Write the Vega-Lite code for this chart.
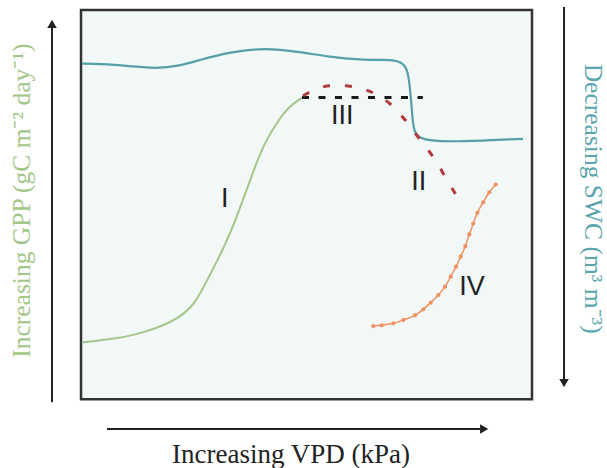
{
  "$schema": "https://vega.github.io/schema/vega-lite/v6.json",
  "width": 607,
  "height": 468,
  "padding": 0,
  "autosize": {"type": "fit", "contains": "padding"},
  "background": "white",
  "config": {"view": {"stroke": null}},
  "datasets": {
    "box": [{"x": 0, "x2": 100, "y": 0, "y2": 100}],
    "swc": [
      {"x": 0.2, "y": 86.2}, {"x": 4.2, "y": 86.2}, {"x": 10.9, "y": 85.6}, {"x": 16.4, "y": 84.9},
      {"x": 22.0, "y": 85.6}, {"x": 26.4, "y": 87.2}, {"x": 33.0, "y": 89.2}, {"x": 40.8, "y": 90.3},
      {"x": 48.6, "y": 89.2}, {"x": 55.2, "y": 87.9}, {"x": 61.9, "y": 87.2}, {"x": 67.4, "y": 87.2},
      {"x": 70.7, "y": 86.9}, {"x": 72.1, "y": 85.4}, {"x": 72.7, "y": 82.6}, {"x": 73.2, "y": 76.9},
      {"x": 73.6, "y": 70.5}, {"x": 74.1, "y": 68.3}, {"x": 75.2, "y": 67.1}, {"x": 77.4, "y": 66.4},
      {"x": 81.8, "y": 66.2}, {"x": 88.5, "y": 66.4}, {"x": 98.0, "y": 66.9}
    ],
    "gpp": [
      {"x": 0.44, "y": 14.62}, {"x": 7.10, "y": 15.38}, {"x": 14.63, "y": 17.18}, {"x": 21.95, "y": 20.77},
      {"x": 25.28, "y": 24.62}, {"x": 27.49, "y": 29.49}, {"x": 30.38, "y": 35.90}, {"x": 33.04, "y": 42.31},
      {"x": 36.36, "y": 52.56}, {"x": 38.58, "y": 59.74}, {"x": 40.80, "y": 66.15}, {"x": 44.12, "y": 72.31},
      {"x": 46.34, "y": 75.38}, {"x": 49.00, "y": 77.44}
    ],
    "plateau": [{"x": 49.0, "y": 77.5}, {"x": 75.8, "y": 77.5}],
    "decline": [
      {"x": 49.22, "y": 77.95}, {"x": 51.88, "y": 79.49}, {"x": 55.21, "y": 80.51}, {"x": 58.54, "y": 80.51},
      {"x": 61.42, "y": 80.0}, {"x": 65.19, "y": 78.46}, {"x": 68.51, "y": 75.90}, {"x": 71.84, "y": 71.79},
      {"x": 75.17, "y": 66.67}, {"x": 78.49, "y": 61.54}, {"x": 81.37, "y": 55.90}, {"x": 84.48, "y": 50.0}
    ],
    "recovery": [
      {"x": 64.81, "y": 18.79}, {"x": 66.67, "y": 18.97}, {"x": 69.25, "y": 19.49}, {"x": 71.46, "y": 20.33},
      {"x": 74.06, "y": 21.54}, {"x": 75.90, "y": 23.08}, {"x": 77.54, "y": 24.79}, {"x": 79.22, "y": 26.74},
      {"x": 80.71, "y": 28.90}, {"x": 81.97, "y": 31.46}, {"x": 83.15, "y": 34.03}, {"x": 84.19, "y": 36.59},
      {"x": 85.21, "y": 39.31}, {"x": 86.10, "y": 42.31}, {"x": 86.98, "y": 45.13}, {"x": 87.87, "y": 47.87},
      {"x": 89.20, "y": 50.59}, {"x": 90.53, "y": 53.15}, {"x": 91.95, "y": 55.13}
    ],
    "numerals": [
      {"x": 31.9, "y": 51.5, "t": "I"},
      {"x": 57.9, "y": 72.8, "t": "III"},
      {"x": 74.9, "y": 55.9, "t": "II"},
      {"x": 86.7, "y": 28.7, "t": "IV"}
    ],
    "vrules": [
      {"x": -6.43, "y": -0.77, "y2": 95.5},
      {"x": 107.1, "y": 100.77, "y2": 5.0}
    ],
    "hrules": [{"x": 5.76, "x2": 88.5, "y": -7.69}],
    "heads": [
      {"x": -6.43, "y": 96.4, "s": "triangle-up"},
      {"x": 107.1, "y": 4.1, "s": "triangle-down"},
      {"x": 89.4, "y": -7.69, "s": "triangle-right"}
    ]
  },
  "encoding": {
    "x": {"field": "x", "type": "quantitative", "scale": {"domain": [-17.96, 116.63], "nice": false, "zero": false}, "axis": null},
    "y": {"field": "y", "type": "quantitative", "scale": {"domain": [-17.44, 102.56], "nice": false, "zero": false}, "axis": null}
  },
  "layer": [
    {
      "data": {"name": "box"},
      "mark": {"type": "rect", "fill": "#f2f7f8", "stroke": "#333333", "strokeWidth": 2.5},
      "encoding": {"x2": {"field": "x2"}, "y2": {"field": "y2"}}
    },
    {
      "data": {"name": "swc"},
      "mark": {"type": "line", "interpolate": "basis", "color": "#559fa9", "strokeWidth": 2.2}
    },
    {
      "data": {"name": "gpp"},
      "mark": {"type": "line", "interpolate": "basis", "color": "#a2c687", "strokeWidth": 2}
    },
    {
      "data": {"name": "plateau"},
      "mark": {"type": "line", "color": "#1a1a1a", "strokeWidth": 3, "strokeDash": [7, 9.5]}
    },
    {
      "data": {"name": "decline"},
      "mark": {"type": "line", "interpolate": "monotone", "color": "#b23a3a", "strokeWidth": 3, "strokeDash": [7, 15]}
    },
    {
      "data": {"name": "recovery"},
      "mark": {"type": "line", "interpolate": "monotone", "color": "#ef9261", "strokeWidth": 1.5, "point": {"filled": true, "size": 18, "color": "#ef9261"}}
    },
    {
      "data": {"name": "numerals"},
      "mark": {"type": "text", "font": "Liberation Sans", "fontSize": 27, "color": "#222222", "baseline": "middle", "align": "center"},
      "encoding": {"text": {"field": "t"}}
    },
    {
      "data": {"name": "vrules"},
      "mark": {"type": "rule", "color": "#222222", "strokeWidth": 2},
      "encoding": {"y2": {"field": "y2"}}
    },
    {
      "data": {"name": "hrules"},
      "mark": {"type": "rule", "color": "#222222", "strokeWidth": 2},
      "encoding": {"x2": {"field": "x2"}}
    },
    {
      "data": {"name": "heads"},
      "mark": {"type": "point", "filled": true, "color": "#222222", "size": 90, "opacity": 1},
      "encoding": {"shape": {"field": "s", "type": "nominal", "scale": null}}
    },
    {
      "data": {"values": [{"x": 46.56, "y": -14.36, "t": "Increasing VPD (kPa)"}]},
      "mark": {"type": "text", "font": "Times New Roman", "fontSize": 27, "color": "#222222", "baseline": "middle", "align": "center"},
      "encoding": {"text": {"field": "t"}}
    },
    {
      "data": {"values": [{"x": -13.1, "y": 51.0, "t": "Increasing GPP (gC m⁻² day⁻¹)"}]},
      "mark": {"type": "text", "font": "Times New Roman", "fontSize": 25.5, "color": "#a2c687", "angle": 270, "baseline": "middle", "align": "center"},
      "encoding": {"text": {"field": "t"}}
    },
    {
      "data": {"values": [{"x": 113.5, "y": 51.5, "t": "Decreasing SWC (m³ m⁻³)"}]},
      "mark": {"type": "text", "font": "Times New Roman", "fontSize": 25.5, "color": "#5aa6ac", "angle": 90, "baseline": "middle", "align": "center"},
      "encoding": {"text": {"field": "t"}}
    }
  ]
}
